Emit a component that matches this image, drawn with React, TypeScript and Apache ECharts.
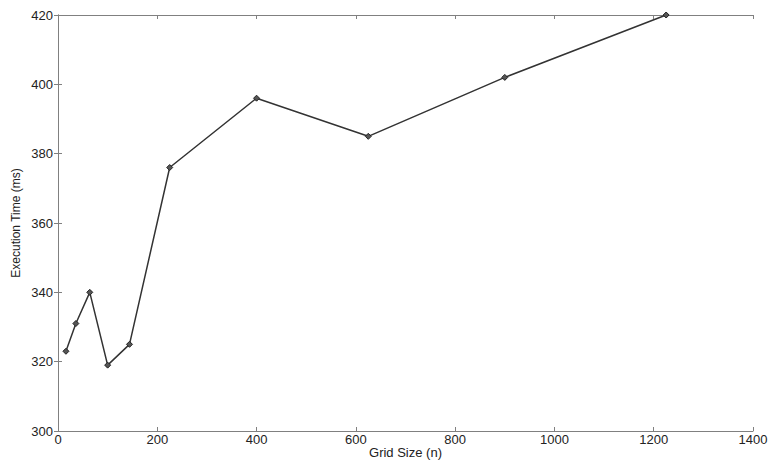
import React, { useEffect, useRef } from "react";
import * as echarts from "echarts";

const gridSizes = [16, 36, 64, 100, 144, 225, 400, 625, 900, 1225];
const execTimes = [323, 331, 340, 319, 325, 376, 396, 385, 402, 420];
const xTicks = { min: 0, max: 1400, interval: 200 };
const yTicks = { min: 300, max: 420, interval: 20 };

const FONT = "'Liberation Sans', Arial, Helvetica, sans-serif";
const AXIS_COLOR = "#808080";
const TEXT_COLOR = "#222";

export default function App() {
  const ref = useRef<HTMLDivElement>(null);
  useEffect(() => {
    if (!ref.current) return;
    const chart = echarts.init(ref.current, null, { renderer: "svg" });
    const lineStyle = { color: AXIS_COLOR, width: 1 };
    const tick = { show: true, inside: true, length: 4, lineStyle };
    const plain = (v: number) => String(v);
    chart.setOption({
      animation: false,
      backgroundColor: "#fff",
      grid: {
        left: 58,
        right: 19,
        top: 15,
        bottom: 31,
        containLabel: false,
        outerBoundsMode: "none",
      },
      xAxis: [
        {
          type: "value",
          ...xTicks,
          name: "Grid Size (n)",
          nameLocation: "middle",
          nameGap: 15,
          nameMoveOverlap: false,
          nameTextStyle: { fontFamily: FONT, fontSize: 13, color: TEXT_COLOR },
          axisLine: { show: true, lineStyle },
          axisTick: tick,
          splitLine: { show: false },
          axisLabel: { fontFamily: FONT, fontSize: 13, color: TEXT_COLOR, margin: 2, formatter: plain },
        },
        {
          type: "value",
          position: "top",
          ...xTicks,
          axisLine: { show: true, lineStyle },
          axisTick: tick,
          splitLine: { show: false },
          axisLabel: { show: false },
        },
      ],
      yAxis: [
        {
          type: "value",
          ...yTicks,
          name: "Execution Time (ms)",
          nameLocation: "middle",
          nameGap: 36,
          nameMoveOverlap: false,
          nameTextStyle: { fontFamily: FONT, fontSize: 12, color: TEXT_COLOR },
          axisLine: { show: true, lineStyle },
          axisTick: tick,
          splitLine: { show: false },
          axisLabel: { fontFamily: FONT, fontSize: 13, color: TEXT_COLOR, margin: 5, formatter: plain },
        },
        {
          type: "value",
          position: "right",
          ...yTicks,
          axisLine: { show: true, lineStyle },
          axisTick: tick,
          splitLine: { show: false },
          axisLabel: { show: false },
        },
      ],
      series: [
        {
          type: "line",
          data: gridSizes.map((x, i) => [x, execTimes[i]]),
          symbol: "diamond",
          symbolSize: 6,
          lineStyle: { color: "#333", width: 1.5 },
          itemStyle: { color: "#555", borderColor: "#222", borderWidth: 1 },
        },
      ],
    });
    return () => chart.dispose();
  }, []);
  return <div ref={ref} style={{ width: 772, height: 462, position: "absolute", left: 0, top: 0 }} />;
}
